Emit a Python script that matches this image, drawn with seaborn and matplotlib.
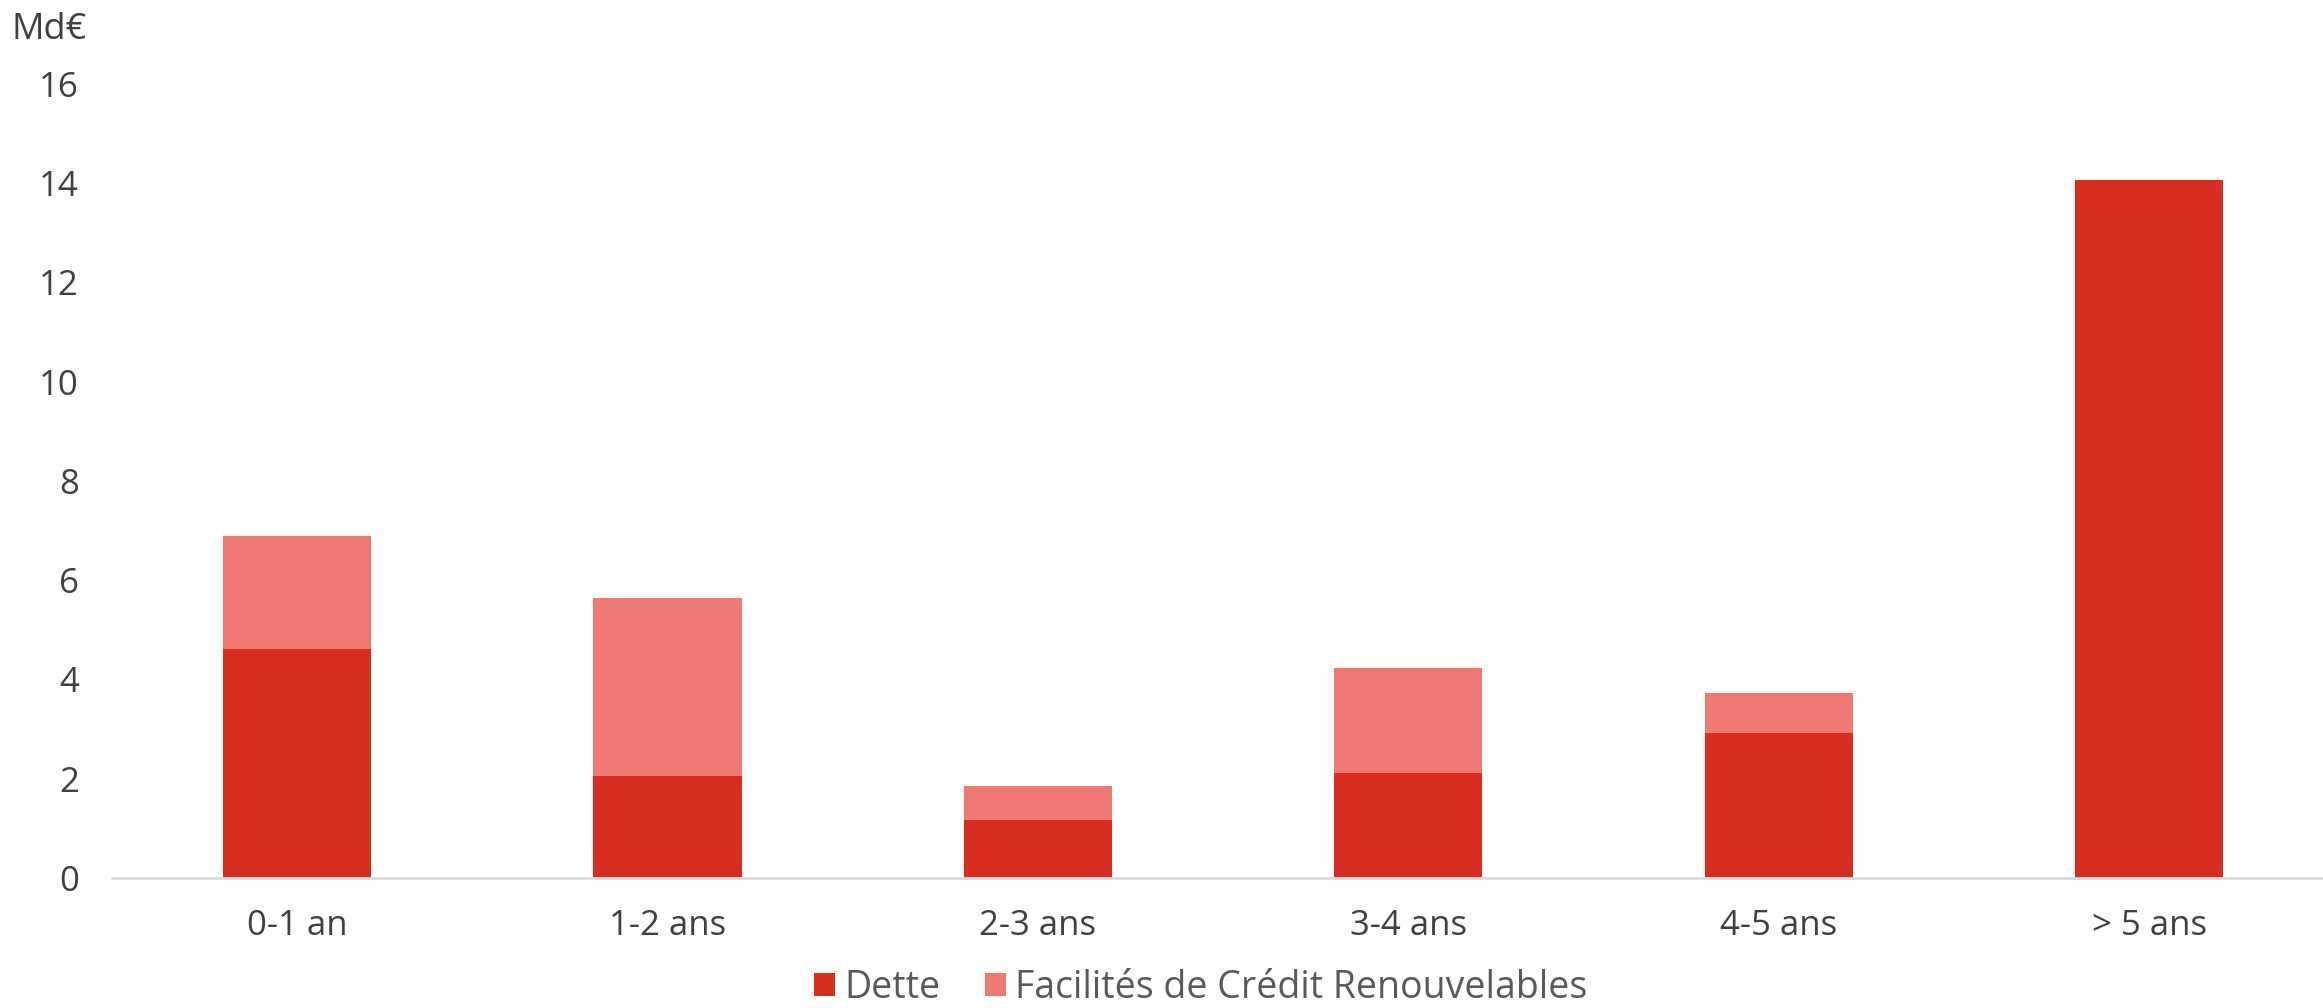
import numpy as np
import pandas as pd
import seaborn as sns
from matplotlib import pyplot as plt

# Maturity buckets and amounts (Md€)
categories = ['0-1 an', '1-2 ans', '2-3 ans', '3-4 ans', '4-5 ans', '> 5 ans']
dette = [4.62, 2.06, 1.16, 2.12, 2.93, 14.07]
facilites = [2.28, 3.58, 0.69, 2.12, 0.80, 0.0]

dark_red = '#D82E21'
light_red = '#EE7A73'

sns.set_theme(style='white')
plt.rcParams['font.family'] = ['Open Sans', 'DejaVu Sans']

df = pd.DataFrame({'cat': categories, 'Dette': dette, 'Facilites': facilites})
df['Total'] = df['Dette'] + df['Facilites']

fig = plt.figure(figsize=(23.23, 10.08), dpi=100)
ax = fig.add_axes([0.0482, 0.129, 0.9567, 0.7877])

# stacked: total first (light), debt on top of it (dark)
sns.barplot(data=df, x='cat', y='Total', color=light_red, width=0.4,
            saturation=1, linewidth=0, ax=ax, label='Facilités de Crédit Renouvelables')
sns.barplot(data=df, x='cat', y='Dette', color=dark_red, width=0.4,
            saturation=1, linewidth=0, ax=ax, label='Dette')

ax.set_ylim(0, 16)
ax.set_xlim(-0.5, len(categories) - 0.5)
ax.set_yticks(range(0, 17, 2))
ax.set_xlabel('')
ax.set_ylabel('')
ax.tick_params(axis='y', labelsize=25, labelcolor='#404040', length=0, pad=24)
ax.tick_params(axis='x', labelsize=25, labelcolor='#404040', length=0, pad=22)

for s in ['top', 'right', 'left']:
    ax.spines[s].set_visible(False)
ax.spines['bottom'].set_color('#D9D9D9')
ax.spines['bottom'].set_linewidth(2)

handles, labels = ax.get_legend_handles_labels()
ax.legend(handles[::-1], labels[::-1], loc='lower center', bbox_to_anchor=(0.49, -0.205),
          ncol=2, frameon=False, fontsize=27, labelcolor='#595959',
          handlelength=0.55, handleheight=0.55, handletextpad=0.25, columnspacing=1.2)

fig.text(0.005, 0.97, 'Md€', fontsize=26, color='#404040', va='center', ha='left')

fig.savefig('out.png', dpi=100)
